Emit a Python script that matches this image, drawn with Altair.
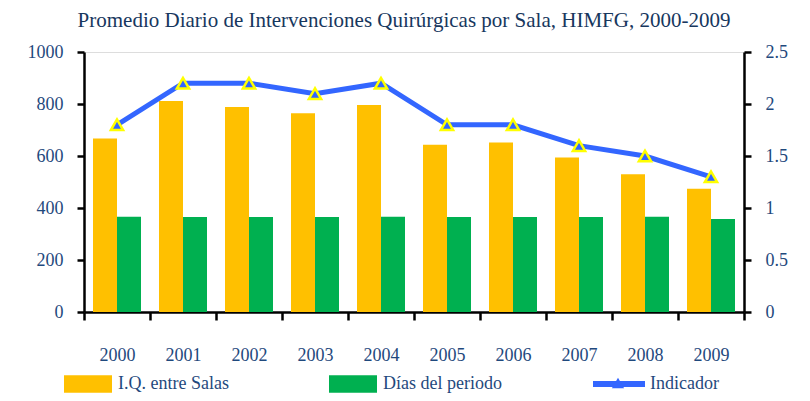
import altair as alt
import pandas as pd

years = ["2000", "2001", "2002", "2003", "2004", "2005", "2006", "2007", "2008", "2009"]
iq_salas = [667, 812, 788, 764, 796, 643, 652, 594, 530, 474]
dias_periodo = [366, 365, 365, 365, 366, 365, 365, 365, 366, 358]
indicador = [1.8, 2.2, 2.2, 2.1, 2.2, 1.8, 1.8, 1.6, 1.5, 1.3]

series = ["I.Q. entre Salas", "Días del periodo"]
bar_colors = ["#FFC000", "#00B050"]
left_ticks = [0, 200, 400, 600, 800, 1000]
right_ticks = [0, 0.5, 1, 1.5, 2, 2.5]

FONT = "Liberation Serif"
LBL = "#1F497D"
TITLE_C = "#17375E"

bars_df = pd.DataFrame({
    "year": years * 2,
    "serie": [series[0]] * len(years) + [series[1]] * len(years),
    "valor": iq_salas + dias_periodo,
})
line_df = pd.DataFrame({"year": years, "ind": indicador, "serie": ["Indicador"] * len(years)})

x_enc = alt.X(
    "year:N", sort=years, title=None,
    scale=alt.Scale(paddingInner=0, paddingOuter=0),
    axis=alt.Axis(labelAngle=0, tickBand="extent", tickSize=8, tickWidth=2.5, tickColor="black",
                  domainColor="black", domainWidth=2.5, labelPadding=26, labelFontSize=18,
                  labelColor=LBL, labelFont=FONT),
)

bars = alt.Chart(bars_df).mark_bar().encode(
    x=x_enc,
    xOffset=alt.XOffset("serie:N", sort=series,
                        scale=alt.Scale(domain=series, paddingInner=0, paddingOuter=0.375)),
    y=alt.Y("valor:Q", title=None,
            scale=alt.Scale(domain=[0, 1000], nice=False),
            axis=alt.Axis(values=left_ticks, format="d", grid=False, tickSize=7, tickWidth=2.5,
                          tickColor="black", domainColor="black", domainWidth=2.5, labelPadding=14,
                          labelFontSize=18, labelColor=LBL, labelFont=FONT)),
    color=alt.Color("serie:N", sort=series,
                    scale=alt.Scale(domain=series, range=bar_colors),
                    legend=alt.Legend(orient="none", legendX=-20, legendY=308, direction="horizontal",
                                      title=None, symbolType="M-1,-0.36H1V0.36H-1Z", symbolSize=2304,
                                      symbolStrokeWidth=0, labelFontSize=18, labelFont=FONT,
                                      labelColor=LBL, columnPadding=100, labelOffset=6)),
)

y_right = alt.Y("ind:Q", title=None,
                scale=alt.Scale(domain=[0, 2.5], nice=False),
                axis=alt.Axis(orient="right", values=right_ticks, format=".1~f", grid=False, tickSize=7,
                              tickWidth=2.5, tickColor="black", domainColor="black", domainWidth=2.5,
                              labelPadding=14, labelFontSize=18, labelColor=LBL, labelFont=FONT))

line = alt.Chart(line_df).mark_line(strokeWidth=5).encode(
    x=alt.X("year:N", sort=years),
    y=y_right,
    stroke=alt.Stroke("serie:N", scale=alt.Scale(domain=["Indicador"], range=["#3366FF"]),
                      legend=alt.Legend(orient="none", legendX=506, legendY=303, title=None,
                                        symbolType="stroke", symbolSize=2704, symbolStrokeWidth=6,
                                        labelFontSize=18, labelFont=FONT, labelColor=LBL, labelOffset=2)),
)

pts = alt.Chart(line_df).mark_point(filled=True, fill="#3366FF", stroke="#FFFF00", strokeWidth=2.5,
                                    size=150, opacity=1).encode(
    x=alt.X("year:N", sort=years),
    y=alt.Y("ind:Q", scale=alt.Scale(domain=[0, 2.5], nice=False), axis=None),
    shape=alt.Shape("serie:N", scale=alt.Scale(domain=["Indicador"], range=["triangle-up"]),
                    legend=alt.Legend(orient="none", legendX=525, legendY=322, title=None,
                                      symbolSize=150, symbolFillColor="#3366FF",
                                      symbolStrokeColor="#FFFF00", symbolStrokeWidth=2.5,
                                      labelExpr="''", labelFontSize=18)),
)

chart = alt.layer(bars, line, pts).resolve_scale(
    y="independent", color="independent", stroke="independent", shape="independent"
).properties(
    width=660, height=260,
    padding={"left": 76, "top": 44, "right": 56, "bottom": 81},
    autosize=alt.AutoSizeParams(type="none"),
    title=alt.TitleParams(
        "Promedio Diario de Intervenciones Quirúrgicas por Sala, HIMFG, 2000-2009",
        font=FONT, fontSize=21, fontWeight="normal", color=TITLE_C, anchor="middle",
        offset=12, dx=-10),
).configure_view(stroke=None).configure(background="white")

chart.save("out.html", embed_options={"renderer": "svg", "actions": False})
